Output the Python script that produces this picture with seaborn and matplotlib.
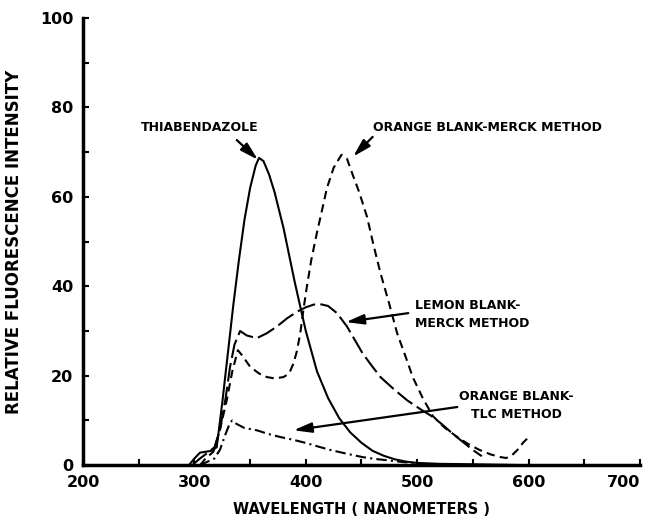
"""Fluorescence spectra: thiabendazole vs. citrus blanks."""

import numpy as np
import pandas as pd
import matplotlib
matplotlib.use('Agg')
import matplotlib.pyplot as plt
import seaborn as sns

# Thiabendazole (solid)
thia_nm = [295, 300, 305, 310, 315, 320, 325, 330, 335, 340, 345, 350, 355, 358,
           362, 367, 372, 380, 390, 400, 410, 420, 430, 440, 450, 460, 470, 480,
           490, 500, 520, 550, 600]
thia_val = [0, 1.5, 2.8, 3.0, 3.2, 4, 14, 25, 36, 46, 55, 62, 67, 68.7,
            68, 65, 61, 53, 41, 30, 21, 15, 10.5, 7.3, 5, 3.2, 2.1, 1.3,
            0.8, 0.5, 0.3, 0.2, 0]

# Orange blank - Merck method (dashed)
om_nm = [305, 310, 317, 322, 329, 334, 339, 343, 350, 358, 365, 372, 380, 385,
         389, 392, 395, 398, 401, 405, 410, 415, 419, 425, 432, 437, 442, 448,
         455, 461, 467, 475, 482, 490, 496, 505, 514, 525, 536, 546, 556, 566,
         575, 580, 585, 590, 595, 601]
om_val = [0, 1.5, 3, 7, 14.5, 21, 25.7, 24.5, 22, 20.5, 19.7, 19.4, 19.7, 20.5,
          22.8, 25.5, 29.5, 35, 40, 46, 52, 57.5, 62, 66.5, 69.4, 68.5, 65, 61,
          55.5, 49, 43, 36, 29.5, 24, 19.7, 15, 11, 8.3, 6.3, 4.7, 3.4, 2.4,
          1.8, 1.6, 2.2, 3.4, 5, 6.5]

# Lemon blank - Merck method (long dash)
lm_nm = [298, 305, 312, 318, 323, 328, 332, 336, 341, 347, 356, 365, 374, 383,
         392, 400, 407, 413, 420, 428, 437, 444, 451, 459, 467, 479, 491, 503,
         514, 523, 532, 541, 550, 558]
lm_val = [0, 1.5, 2.8, 4, 8, 15, 22, 27, 30, 29, 28.4, 29.5, 31, 32.8,
          34.3, 35.3, 35.9, 36, 35.6, 34, 31, 28, 25, 22.3, 19.7, 17, 14.5, 12.5,
          10.8, 9, 7, 5.2, 3.4, 2]

# Orange blank - TLC method (dash-dot)
ot_nm = [305, 312, 318, 323, 328, 332, 334, 338, 345, 356, 366, 377, 390, 401,
         412, 422, 436, 451, 462, 473, 487, 500]
ot_val = [0, 0.8, 1.5, 3.5, 7, 9.5, 10, 9.2, 8.3, 7.8, 7, 6.3, 5.6, 4.9,
          4.1, 3.4, 2.6, 1.8, 1.4, 1.1, 0.7, 0.4]

x_ticks = [200, 300, 400, 500, 600, 700]
y_ticks = [0, 20, 40, 60, 80, 100]

sns.set_style('ticks')
plt.rcParams['font.family'] = ['DejaVu Sans']
plt.rcParams['font.weight'] = 'bold'
for key in ['text.color', 'axes.labelcolor', 'xtick.color', 'ytick.color']:
    plt.rcParams[key] = 'black'

fig = plt.figure(figsize=(6.49, 5.28), dpi=100)
ax = fig.add_axes([0.128, 0.119, 0.858, 0.847])

series = [
    (thia_nm, thia_val, '-'),
    (om_nm, om_val, (0, (4, 2.5))),
    (lm_nm, lm_val, (0, (9, 2.5))),
    (ot_nm, ot_val, (0, (5, 2, 1, 2))),
]
for nm, val, ls in series:
    df = pd.DataFrame({'nm': nm, 'val': val})
    sns.lineplot(data=df, x='nm', y='val', ax=ax, color='black',
                 linestyle=ls, linewidth=1.5, sort=False)

ax.set_xlim(200, 700)
ax.set_ylim(0, 100)
ax.set_xticks(x_ticks)
ax.set_yticks(y_ticks)
ax.set_xticks(np.arange(250, 700, 100), minor=True)
ax.set_yticks(np.arange(10, 100, 20), minor=True)
ax.tick_params(which='both', direction='in', length=4, width=1.5,
               labelsize=11.5)
ax.tick_params(axis='x', pad=7)
ax.tick_params(axis='y', pad=7)
for lab in ax.get_xticklabels() + ax.get_yticklabels():
    lab.set_fontweight('bold')
ax.get_xticklabels()[-1].set_horizontalalignment('right')
sns.despine(ax=ax)
for side in ['left', 'bottom']:
    ax.spines[side].set_linewidth(2.5)
    ax.spines[side].set_color('black')

ax.set_xlabel('WAVELENGTH ( NANOMETERS )', fontsize=10.5, fontweight='bold',
              labelpad=9)
ax.set_ylabel('RELATIVE FLUORESCENCE INTENSITY', fontsize=12,
              fontweight='bold', labelpad=12)

lab_kw = dict(fontsize=9, fontweight='bold', va='center', linespacing=1.5)
ax.text(305, 75.4, 'THIABENDAZOLE', ha='center', **lab_kw)
ax.text(563, 75.4, 'ORANGE BLANK-MERCK METHOD', ha='center', **lab_kw)
ax.text(498, 33.8, 'LEMON BLANK-\nMERCK METHOD', ha='left', **lab_kw)
ax.text(589, 13.3, 'ORANGE BLANK-\nTLC METHOD', ha='center',
        multialignment='center', **lab_kw)

arrow = dict(arrowstyle='-|>,head_length=0.9,head_width=0.25', color='black',
             lw=1.6, mutation_scale=12, shrinkA=0, shrinkB=0)
arrows = [
    ((338, 72.7), (357, 68.3)),
    ((460, 73.4), (442.5, 69.0)),
    ((492, 34.0), (436, 32.0)),
    ((536, 13.0), (389, 7.8)),
]
for tail, head in arrows:
    ax.annotate('', xy=head, xytext=tail, arrowprops=arrow)

fig.savefig('out.png', dpi=100)
